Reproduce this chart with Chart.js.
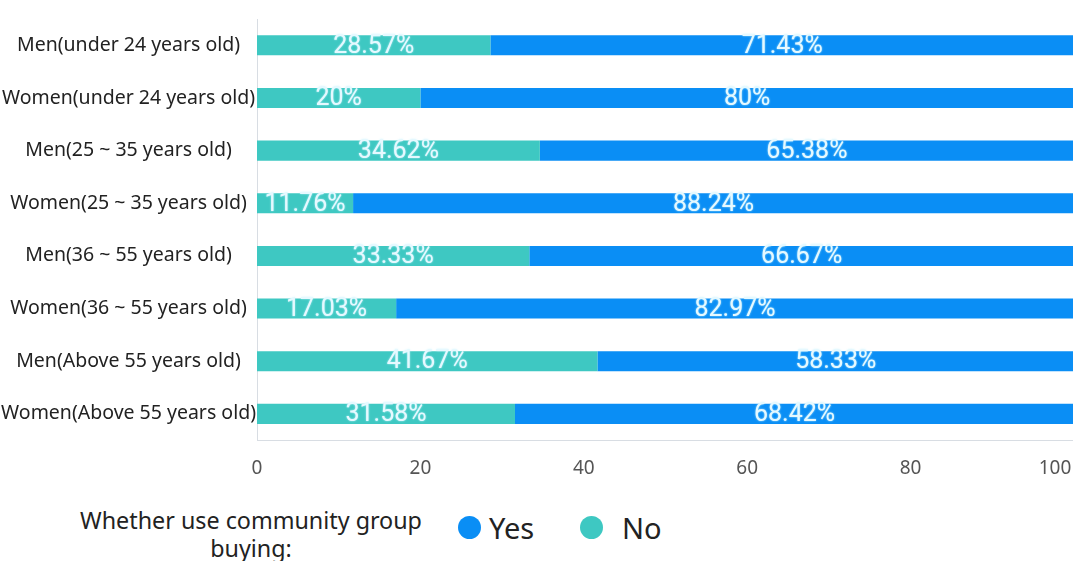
<!DOCTYPE html>
<html>
<head>
<meta charset="utf-8">
<script src="https://cdn.jsdelivr.net/npm/chart.js@4/dist/chart.umd.min.js"></script>
<style>
  html, body { margin: 0; padding: 0; background: #fff; overflow: hidden; }
  #wrap { position: relative; width: 1073px; height: 561px; overflow: hidden; }
  #box { position: absolute; left: 0; top: 0; width: 1074px; height: 497px; }
  #legend { position: absolute; left: 0; top: 505px; width: 1073px; height: 56px;
            font-family: "Noto Sans", "Open Sans", sans-serif; color: #222; }
  #legend .title { position: absolute; left: 60px; top: 1px; width: 382px; text-align: center;
                   font-size: 23.3px; line-height: 28px; }
  #legend .item { position: absolute; top: 1px; font-size: 29px; line-height: 44px; }
  #legend .dot { position: absolute; top: 11px; width: 23px; height: 23px; border-radius: 50%; }
</style>
</head>
<body>
<div id="wrap">
  <div id="box"><canvas id="c"></canvas></div>
  <div id="legend">
    <div class="title">Whether use community group buying:</div>
    <span class="dot" style="left:458px;background:#0a8ef5"></span>
    <div class="item" style="left:489px">Yes</div>
    <span class="dot" style="left:580px;background:#3ec8c2"></span>
    <div class="item" style="left:622px">No</div>
  </div>
</div>
<script>
const categories = [
  'Men(under 24 years old)',
  'Women(under 24 years old)',
  'Men(25 ~ 35 years old)',
  'Women(25 ~ 35 years old)',
  'Men(36 ~ 55 years old)',
  'Women(36 ~ 55 years old)',
  'Men(Above 55 years old)',
  'Women(Above 55 years old)'
];
const noValues  = [28.57, 20, 34.62, 11.76, 33.33, 17.03, 41.67, 31.58];
const yesValues = [71.43, 80, 65.38, 88.24, 66.67, 82.97, 58.33, 68.42];
const xTicks = [0, 20, 40, 60, 80, 100];

const BLUE = '#0a8ef5';
const TEAL = '#3ec8c2';

// Percent labels centred inside each bar segment
const segmentLabels = {
  id: 'segmentLabels',
  afterDatasetsDraw(chart) {
    const ctx = chart.ctx;
    ctx.save();
    ctx.font = '25px "Roboto", "Liberation Sans", sans-serif';
    ctx.textAlign = 'center';
    ctx.textBaseline = 'middle';
    chart.data.datasets.forEach((ds, di) => {
      const meta = chart.getDatasetMeta(di);
      meta.data.forEach((bar, i) => {
        const v = ds.data[i];
        const cx = (bar.x + bar.base) / 2;
        const txt = (Math.round(v * 100) / 100) + '%';
        ctx.shadowColor = 'rgba(200,245,255,0.9)';
        ctx.shadowBlur = 2;
        ctx.fillStyle = '#e6f9ff';
        ctx.fillText(txt, cx, bar.y + 1);
      });
    });
    ctx.restore();
  }
};

new Chart(document.getElementById('c'), {
  type: 'bar',
  data: {
    labels: categories,
    datasets: [
      { label: 'No', data: noValues, backgroundColor: TEAL, barPercentage: 0.38, categoryPercentage: 1 },
      { label: 'Yes', data: yesValues, backgroundColor: BLUE, barPercentage: 0.38, categoryPercentage: 1 }
    ]
  },
  options: {
    indexAxis: 'y',
    responsive: true,
    maintainAspectRatio: false,
    animation: false,
    layout: { padding: { top: 19, left: 0, right: 0, bottom: 0 } },
    plugins: { legend: { display: false }, tooltip: { enabled: false } },
    scales: {
      x: {
        stacked: true,
        min: 0, max: 100,
        afterBuildTicks(axis) { axis.ticks = xTicks.map(v => ({ value: v })); },
        // the end label is pulled inward so it stays inside the canvas
        afterFit(axis) { axis.paddingRight = 0; axis.paddingLeft = 0; },
        grid: { display: false, drawTicks: false },
        border: { display: true, color: '#d8dde3', width: 1 },
        ticks: {
          color: '#555', font: { family: '"Noto Sans", sans-serif', size: 19 }, padding: 17,
          callback: v => v === 100 ? '100\u2002\u2002\u2002\u2002' : String(v)
        }
      },
      y: {
        stacked: true,
        grid: { display: false, drawTicks: false },
        border: { display: true, color: '#d8dde3', width: 1 },
        afterFit(axis) { axis.width = 257; },
        ticks: { color: '#222', crossAlign: 'center', padding: 1,
                 font: { family: '"Noto Sans", sans-serif', size: 19.5 } }
      }
    }
  },
  plugins: [segmentLabels]
});
</script>
</body>
</html>
